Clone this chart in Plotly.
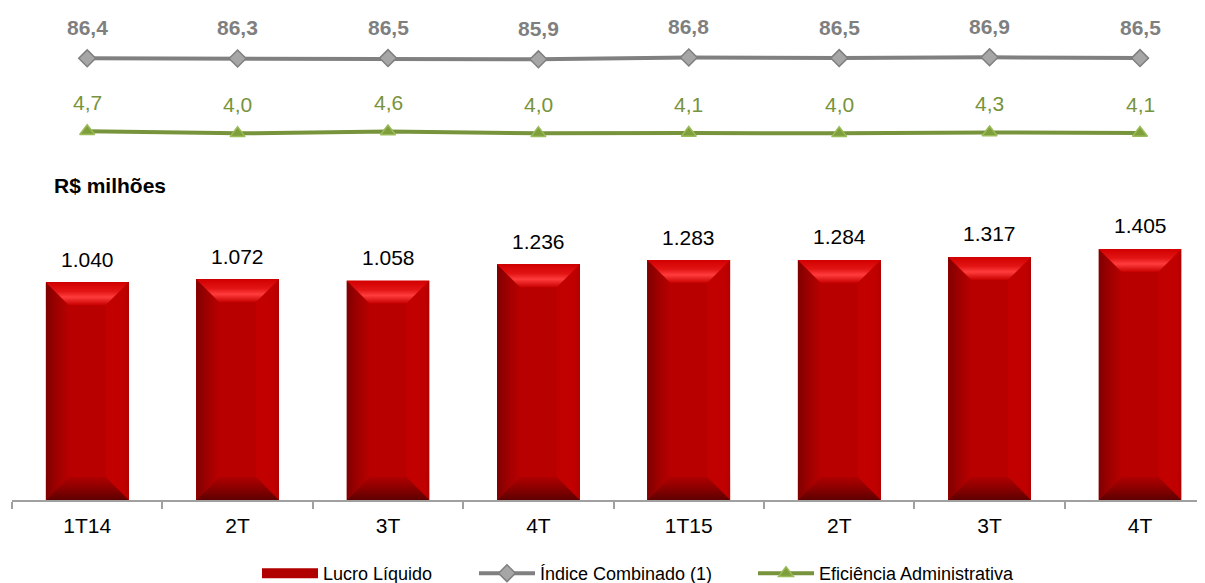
import plotly.graph_objects as go

# ---------------- data ----------------
categories = ["1T14", "2T", "3T", "4T", "1T15", "2T", "3T", "4T"]
lucro_liquido = [1040, 1072, 1058, 1236, 1283, 1284, 1317, 1405]
indice_combinado = [86.4, 86.3, 86.5, 85.9, 86.8, 86.5, 86.9, 86.5]
eficiencia_adm = [4.7, 4.0, 4.6, 4.0, 4.1, 4.0, 4.3, 4.1]
series_names = ["Lucro Líquido", "Índice Combinado (1)", "Eficiência Administrativa"]

# ---------------- layout geometry (page pixels; page body has an 8px margin) ----------------
OFF = 8
WIN_W, WIN_H = 1205, 583
W, H = WIN_W - OFF, WIN_H - OFF
PLOT_LEFT, PLOT_RIGHT, PLOT_TOP, PLOT_BOTTOM = 12, WIN_W, OFF, 500
ML, MR = PLOT_LEFT - OFF, WIN_W - PLOT_RIGHT
MT, MB = PLOT_TOP - OFF, WIN_H - PLOT_BOTTOM
PW, PH = PLOT_RIGHT - PLOT_LEFT, PLOT_BOTTOM - PLOT_TOP


def fy(page_y):
    return (PLOT_BOTTOM - page_y) / PH


def fx(page_x):
    return (page_x - PLOT_LEFT) / PW


SPACING_PX = 150.4
BAR_W = 0.55
x_idx = list(range(len(categories)))
x_range = [-0.5, -0.5 + PW / SPACING_PX]

Y_DOMAIN = [0.0, fy(190)]
Y0 = -1354.0
PX_PER_UNIT = 0.091
Y1 = Y0 + (Y_DOMAIN[1] - Y_DOMAIN[0]) * PH / PX_PER_UNIT


def axis_range(domain, center_val, center_px, ppu):
    pb = PLOT_BOTTOM - domain[0] * PH
    pt = PLOT_BOTTOM - domain[1] * PH
    return [center_val - (pb - center_px) / ppu, center_val + (center_px - pt) / ppu]


Y2_DOMAIN = [fy(100), fy(15)]
Y3_DOMAIN = [fy(150), fy(110)]
y2_range = axis_range(Y2_DOMAIN, 86.4, 58.3, 2.0)
y3_range = axis_range(Y3_DOMAIN, 4.35, 132.3, 3.0)

FONT = "Liberation Sans, Arial, sans-serif"
GRAY = "#7F7F7F"
GREEN = "#77933C"

fig = go.Figure()

# bars (drawn from the axis floor up to the value)
fig.add_trace(go.Bar(
    x=x_idx, y=[v - Y0 for v in lucro_liquido], base=Y0, width=BAR_W,
    marker=dict(color="#B80000", line=dict(width=0)),
    name=series_names[0], hoverinfo="skip", yaxis="y", showlegend=False,
))

# bevel faces
bev_px = 23
bx = bev_px / SPACING_PX
by = bev_px / PX_PER_UNIT


def face(xs, ys, orient, scale):
    fig.add_trace(go.Scatter(
        x=xs + [xs[0]], y=ys + [ys[0]], mode="lines", fill="toself",
        line=dict(width=0), fillgradient=dict(type=orient, colorscale=scale),
        hoverinfo="skip", showlegend=False, yaxis="y",
    ))


for i, v in zip(x_idx, lucro_liquido):
    x0, x1 = i - BAR_W / 2, i + BAR_W / 2
    yb, yt = Y0, v
    face([x0, x0 + bx, x0 + bx, x0], [yb, yb + by, yt - by, yt], "horizontal",
         [[0, "#800000"], [0.5, "#A00000"], [1, "#B80000"]])
    face([x1 - bx, x1, x1, x1 - bx], [yb + by, yb, yt, yt - by], "horizontal",
         [[0, "#C20000"], [0.8, "#C00000"], [1, "#B00000"]])
    face([x0, x1, x1 - bx, x0 + bx], [yb, yb, yb + by, yb + by], "vertical",
         [[0, "#5E0000"], [0.5, "#8A0000"], [1, "#AE0000"]])
    face([x0, x1, x1 - bx, x0 + bx], [yt, yt, yt - by, yt - by], "vertical",
         [[0, "#C80000"], [0.35, "#FF3C3C"], [0.6, "#E21414"], [1, "#D20000"]])

# legend entry for the bars (wide swatch like the original)
fig.add_trace(go.Scatter(
    x=[None], y=[None], mode="lines", yaxis="y",
    line=dict(color="#B00000", width=10),
    name=series_names[0], legend="legend", hoverinfo="skip",
))

# lines
fig.add_trace(go.Scatter(
    x=x_idx, y=indice_combinado, mode="lines+markers", yaxis="y2",
    name=series_names[1], legend="legend2",
    line=dict(color="#808080", width=4),
    marker=dict(symbol="diamond", size=13, color="#A6A6A6",
                line=dict(color="#7F7F7F", width=1.5)),
    hoverinfo="skip",
))
fig.add_trace(go.Scatter(
    x=x_idx, y=eficiencia_adm, mode="lines+markers", yaxis="y3",
    name=series_names[2], legend="legend3",
    line=dict(color=GREEN, width=4),
    marker=dict(symbol="triangle-up", size=13, color="#7F9F3C",
                line=dict(color="#9BBB59", width=1.5)),
    hoverinfo="skip",
))

annotations = []
for i, v in zip(x_idx, lucro_liquido):
    annotations.append(dict(
        x=i, y=v, xref="x", yref="y", yshift=23, showarrow=False,
        text=f"{v:,}".replace(",", "."), font=dict(size=21, color="#000000", family=FONT),
    ))
for i, v in zip(x_idx, indice_combinado):
    annotations.append(dict(
        x=i, y=v, xref="x", yref="y2", yshift=31, showarrow=False,
        text="<b>" + f"{v:.1f}".replace(".", ",") + "</b>",
        font=dict(size=21, color=GRAY, family=FONT),
    ))
for i, v in zip(x_idx, eficiencia_adm):
    annotations.append(dict(
        x=i, y=v, xref="x", yref="y3", yshift=29, showarrow=False,
        text=f"{v:.1f}".replace(".", ","),
        font=dict(size=21, color=GREEN, family=FONT),
    ))
annotations.append(dict(
    x=fx(52), y=fy(185), xref="paper", yref="paper",
    xanchor="left", yanchor="middle", showarrow=False,
    text="<b>R$ milhões</b>", font=dict(size=21, color="#000000", family=FONT),
))


def legend_at(icon_left):
    return dict(
        orientation="h", x=fx(icon_left - 5), xanchor="left",
        y=fy(573.5), yanchor="middle", bgcolor="rgba(0,0,0,0)",
        font=dict(size=18, family=FONT, color="#000000"),
        itemwidth=56,
    )


fig.update_layout(
    width=W, height=H,
    margin=dict(l=ML, r=MR, t=MT, b=MB, autoexpand=False),
    paper_bgcolor="white", plot_bgcolor="white",
    font=dict(family=FONT, color="#000000"),
    bargap=0,
    showlegend=True,
    legend=legend_at(262),
    legend2=legend_at(479),
    legend3=legend_at(758),
    xaxis=dict(
        range=x_range, tickmode="array", tickvals=x_idx, ticktext=categories,
        ticks="", showgrid=False, zeroline=False,
        showline=True, linecolor="#A0A0A0", linewidth=2,
        tickfont=dict(size=21, color="#000000", family=FONT),
        ticklabelstandoff=6,
        minor=dict(tickmode="array", tickvals=[i - 0.5 for i in range(len(categories) + 1)],
                   ticks="outside", ticklen=7, tickwidth=2, tickcolor="#A0A0A0", showgrid=False),
        fixedrange=True,
    ),
    yaxis=dict(domain=Y_DOMAIN, range=[Y0, Y1], visible=False, showgrid=False, zeroline=False),
    yaxis2=dict(domain=Y2_DOMAIN, range=y2_range, visible=False, showgrid=False,
                zeroline=False, anchor="x"),
    yaxis3=dict(domain=Y3_DOMAIN, range=y3_range, visible=False, showgrid=False,
                zeroline=False, anchor="x"),
    annotations=annotations,
)

fig.write_html("out.html")
